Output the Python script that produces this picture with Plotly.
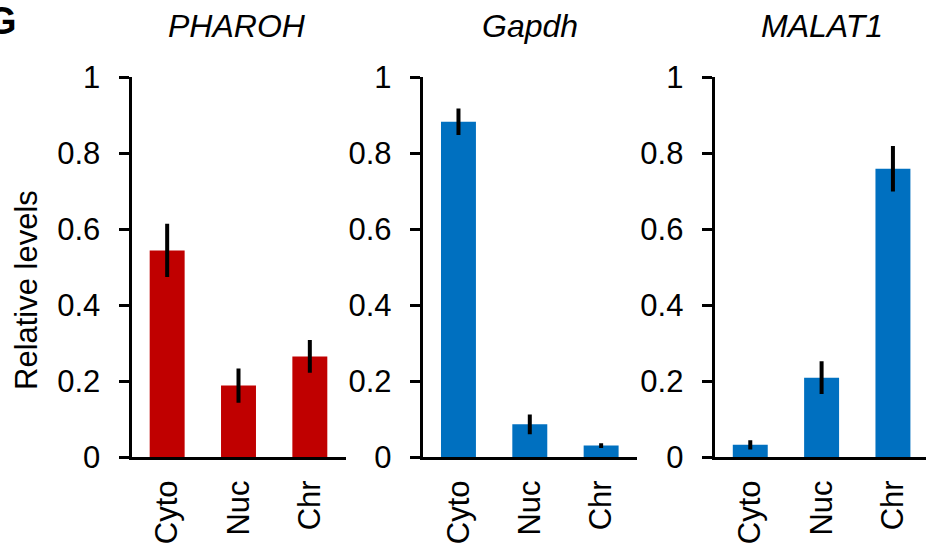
import plotly.graph_objects as go

categories = ["Cyto", "Nuc", "Chr"]
genes = ["PHAROH", "Gapdh", "MALAT1"]
pharoh_vals = [0.544, 0.188, 0.265]
pharoh_err = [0.070, 0.045, 0.043]
gapdh_vals = [0.883, 0.086, 0.030]
gapdh_err = [0.035, 0.026, 0.006]
malat1_vals = [0.032, 0.209, 0.759]
malat1_err = [0.012, 0.043, 0.060]
y_tickvals = [0, 0.2, 0.4, 0.6, 0.8, 1]
y_ticktext = ["0", "0.2", "0.4", "0.6", "0.8", "1"]

FONT = "Liberation Sans, Arial, Helvetica, sans-serif"
W, H = 926, 544
RED = "#C00000"
BLUE = "#0070C0"
TICK_SIZE = 31
TITLE_SIZE = 32

series = [
    (pharoh_vals, pharoh_err, RED),
    (gapdh_vals, gapdh_err, BLUE),
    (malat1_vals, malat1_err, BLUE),
]

# panel pixel domains
x_doms_px = [(131.5, 345.5), (422.8, 636.8), (714.6, 926)]
x_ranges = [[-0.5, 2.5], [-0.5, 2.5], [-0.5, -0.5 + (926 - 714.6) / (214 / 3)]]
y_dom = [(H - 457.0) / H, (H - 77.3) / H]

fig = go.Figure()
for i, (vals, err, col) in enumerate(series):
    sfx = "" if i == 0 else str(i + 1)
    fig.add_trace(go.Bar(
        x=categories, y=vals, width=0.49,
        marker=dict(color=col, line=dict(width=0)),
        error_y=dict(type="data", array=err, visible=True, color="black",
                     thickness=4, width=0),
        xaxis="x" + sfx, yaxis="y" + sfx, showlegend=False,
    ))

layout = dict(
    width=W, height=H,
    margin=dict(l=0, r=0, t=0, b=0),
    paper_bgcolor="white", plot_bgcolor="white",
    font=dict(family=FONT, size=TICK_SIZE, color="black"),
    showlegend=False,
)
for i in range(3):
    sfx = "" if i == 0 else str(i + 1)
    x0, x1 = x_doms_px[i]
    layout["xaxis" + sfx] = dict(
        domain=[x0 / W, min(x1 / W, 1.0)], range=x_ranges[i], anchor="y" + sfx,
        type="category", showline=True, linewidth=3, linecolor="black",
        ticks="", tickangle=-90, showgrid=False, zeroline=False,
        tickfont=dict(family=FONT, size=TICK_SIZE, color="black"),
        ticklabelstandoff=8, automargin=False,
    )
    layout["yaxis" + sfx] = dict(
        domain=y_dom, range=[0, 1], anchor="x" + sfx,
        showline=True, linewidth=3, linecolor="black",
        ticks="outside", ticklen=10, tickwidth=3, tickcolor="black",
        tickvals=y_tickvals, ticktext=y_ticktext,
        showgrid=False, zeroline=False,
        tickfont=dict(family=FONT, size=TICK_SIZE, color="black"),
        ticklabelstandoff=12, automargin=False,
    )
fig.update_layout(**layout)

annotations = []
centers_px = [237, 530, 822]
for g, c in zip(genes, centers_px):
    annotations.append(dict(
        text="<i>" + g + "</i>", xref="paper", x=c / W,
        yref="paper", y=1 - 26 / H, xanchor="center", yanchor="middle",
        showarrow=False, font=dict(family=FONT, size=TITLE_SIZE, color="black"),
    ))
annotations.append(dict(
    text="Relative levels", xref="paper", yref="paper",
    x=26 / W, y=1 - 290 / H, xanchor="center", yanchor="middle",
    textangle=-90, showarrow=False,
    font=dict(family=FONT, size=TICK_SIZE, color="black"),
))
annotations.append(dict(
    text="<b>G</b>", xref="paper", yref="paper",
    x=19 / W, y=1 - 21 / H, xanchor="right", yanchor="middle",
    showarrow=False, font=dict(family=FONT, size=38, color="black"),
))
fig.update_layout(annotations=annotations)

fig.write_html("out.html")
